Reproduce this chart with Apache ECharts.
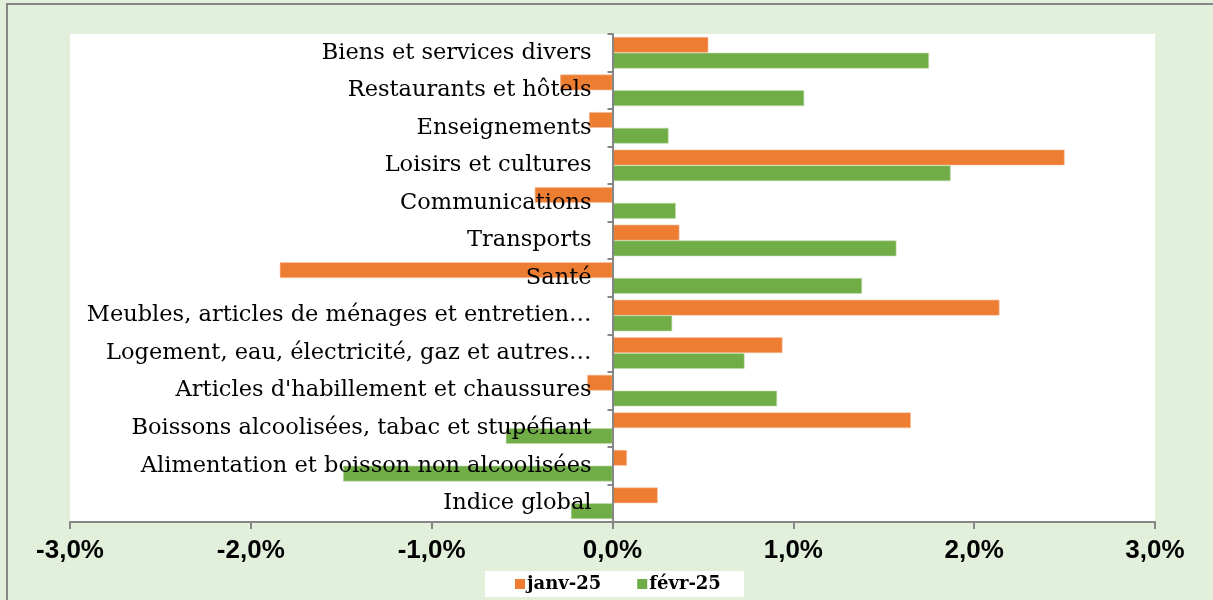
<!DOCTYPE html>
<html>
<head>
<meta charset="utf-8">
<script src="https://cdn.jsdelivr.net/npm/echarts@6/dist/echarts.min.js"></script>
<style>
  html, body { margin: 0; padding: 0; background: #E2EFDA; }
  #chart { width: 1213px; height: 600px; }
</style>
</head>
<body>
<div id="chart"></div>
<script>
// categories, bottom to top
var categories = [
  'Indice global',
  'Alimentation et boisson non alcoolisées',
  'Boissons alcoolisées, tabac et stupéfiant',
  "Articles d'habillement et chaussures",
  'Logement, eau, électricité, gaz et autres…',
  'Meubles, articles de ménages et entretien…',
  'Santé',
  'Transports',
  'Communications',
  'Loisirs et cultures',
  'Enseignements',
  'Restaurants et hôtels',
  'Biens et services divers'
];
// values in %
var janv25 = [0.25, 0.08, 1.65, -0.14, 0.94, 2.14, -1.84, 0.37, -0.43, 2.50, -0.13, -0.29, 0.53];
var fevr25 = [-0.23, -1.49, -0.59, 0.91, 0.73, 0.33, 1.38, 1.57, 0.35, 1.87, 0.31, 1.06, 1.75];
var xTicks = {min: -3, max: 3, step: 1};

var gridLeft = 70, gridRight = 58;
var plotW = 1213 - gridLeft - gridRight;
// put the category axis on the zero of the value axis
var zeroOffset = -plotW * (0 - xTicks.min) / (xTicks.max - xTicks.min);

var chart = echarts.init(document.getElementById('chart'));

chart.setOption({
  backgroundColor: '#E2EFDA',
  animation: false,
  color: ['#ED7D31', '#70AD47'],
  graphic: [{
    type: 'polyline',
    shape: {points: [[7, 600], [7, 4], [1213, 4]]},
    style: {fill: null, stroke: '#868686', lineWidth: 2},
    z: 100
  }],
  grid: {
    left: gridLeft, right: gridRight, top: 34, bottom: 78,
    outerBoundsMode: 'none', containLabel: false,
    show: true, backgroundColor: '#ffffff', borderWidth: 0
  },
  legend: {
    left: 485, top: 571,
    backgroundColor: '#ffffff',
    padding: [4, 23, 4, 30],
    itemWidth: 10, itemHeight: 10, itemGap: 36,
    icon: 'rect',
    itemStyle: {borderWidth: 0},
    textStyle: {fontFamily: 'DejaVu Serif', fontWeight: 'bold', fontSize: 18, color: '#000', padding: [0, 0, 0, -3]},
    data: ['janv-25', 'févr-25']
  },
  xAxis: {
    type: 'value',
    min: xTicks.min, max: xTicks.max, interval: xTicks.step,
    axisLine: {show: true, lineStyle: {color: '#868686', width: 2}},
    axisTick: {show: true, length: 7, lineStyle: {color: '#868686', width: 2}},
    splitLine: {show: false},
    axisLabel: {
      margin: 16,
      fontFamily: 'Liberation Sans', fontWeight: 'bold', fontSize: 26, color: '#000',
      formatter: function (v) { return v.toFixed(1).replace('.', ',') + '%'; }
    }
  },
  yAxis: {
    type: 'category',
    data: categories,
    offset: zeroOffset,
    axisLine: {onZero: false, lineStyle: {color: '#868686', width: 2}},
    axisTick: {show: true, length: 5, lineStyle: {color: '#868686', width: 2}},
    axisLabel: {
      margin: 21, fontFamily: 'DejaVu Serif', fontSize: 22.5, color: '#000',
      padding: [4, 0, 0, 0]
    },
    z: 5
  },
  series: [{
    name: 'janv-25',
    type: 'bar',
    data: janv25,
    barGap: '0%',
    barCategoryGap: '16%',
    itemStyle: {borderColor: '#F6C3A4', borderWidth: 0.6}
  }, {
    name: 'févr-25',
    type: 'bar',
    data: fevr25,
    barGap: '0%',
    barCategoryGap: '16%',
    itemStyle: {borderColor: '#C2DCB0', borderWidth: 0.6}
  }]
});
</script>
</body>
</html>
